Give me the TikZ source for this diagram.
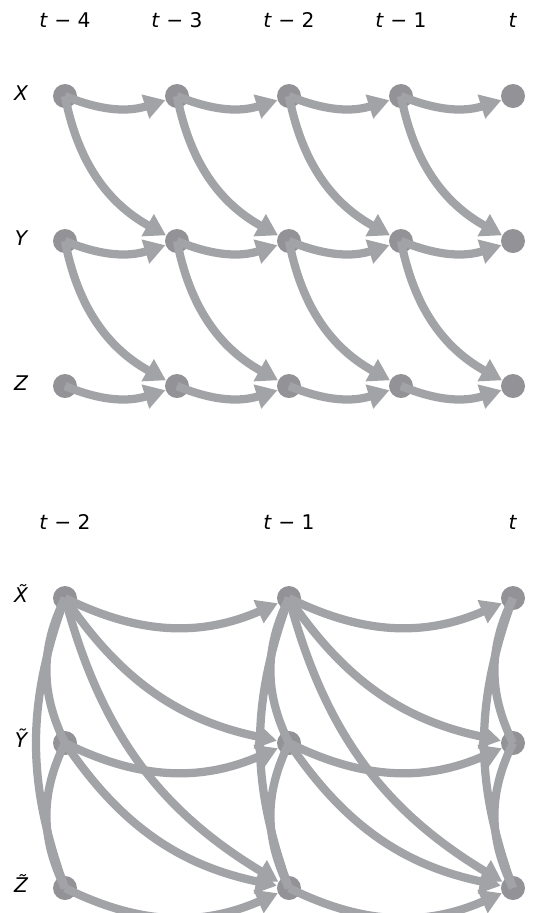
\documentclass[tikz,border=0pt]{standalone}
\usepackage{fontspec}
\setmainfont{DejaVu Sans}
\usetikzlibrary{arrows.meta, positioning}
\definecolor{linkgray}{RGB}{162,163,167}
\definecolor{nodegray}{RGB}{146,146,151}

\begin{document}
\begin{tikzpicture}[
    var/.style={circle, fill=nodegray, inner sep=0pt, minimum size=0.48cm},
    link/.style={-{Triangle[length=0.42cm, width=0.48cm]}, draw=linkgray, line width=0.165cm},
    contemp/.style={draw=linkgray, line width=0.165cm},
    timelabel/.style={font=\fontsize{11.5}{13}\selectfont},
    varlabel/.style={font=\fontsize{11.5}{13}\selectfont\itshape, anchor=mid},
]
\useasboundingbox (0,0) rectangle (10.64,-18.26);

% Time labels (lagged graph)
\node[timelabel] (h4) at (1.3,-0.4) {\textit{t} − 4};
\node[timelabel] (h3) at (3.54,-0.4) {\textit{t} − 3};
\node[timelabel] (h2) at (5.78,-0.4) {\textit{t} − 2};
\node[timelabel] (h1) at (8.02,-0.4) {\textit{t} − 1};
\node[timelabel] (h0) at (10.26,-0.4) {\textit{t}};

% Variable labels
\node[varlabel] (lX) at (0.42,-1.92) {X};
\node[varlabel] (lY) at (0.42,-4.82) {Y};
\node[varlabel] (lZ) at (0.42,-7.72) {Z};

% Variable nodes
\node[var] (X4) at (1.3,-1.92) {};
\node[var] (X3) at (3.54,-1.92) {};
\node[var] (X2) at (5.78,-1.92) {};
\node[var] (X1) at (8.02,-1.92) {};
\node[var] (X0) at (10.26,-1.92) {};
\node[var] (Y4) at (1.3,-4.82) {};
\node[var] (Y3) at (3.54,-4.82) {};
\node[var] (Y2) at (5.78,-4.82) {};
\node[var] (Y1) at (8.02,-4.82) {};
\node[var] (Y0) at (10.26,-4.82) {};
\node[var] (Z4) at (1.3,-7.72) {};
\node[var] (Z3) at (3.54,-7.72) {};
\node[var] (Z2) at (5.78,-7.72) {};
\node[var] (Z1) at (8.02,-7.72) {};
\node[var] (Z0) at (10.26,-7.72) {};

% Lagged links
\draw[link] (X4.center) to[bend right=20] (X3);
\draw[link] (X3.center) to[bend right=20] (X2);
\draw[link] (X2.center) to[bend right=20] (X1);
\draw[link] (X1.center) to[bend right=20] (X0);
\draw[link] (X4.center) to[bend right=25] (Y3);
\draw[link] (X3.center) to[bend right=25] (Y2);
\draw[link] (X2.center) to[bend right=25] (Y1);
\draw[link] (X1.center) to[bend right=25] (Y0);
\draw[link] (Y4.center) to[bend right=20] (Y3);
\draw[link] (Y3.center) to[bend right=20] (Y2);
\draw[link] (Y2.center) to[bend right=20] (Y1);
\draw[link] (Y1.center) to[bend right=20] (Y0);
\draw[link] (Y4.center) to[bend right=25] (Z3);
\draw[link] (Y3.center) to[bend right=25] (Z2);
\draw[link] (Y2.center) to[bend right=25] (Z1);
\draw[link] (Y1.center) to[bend right=25] (Z0);
\draw[link] (Z4.center) to[bend right=20] (Z3);
\draw[link] (Z3.center) to[bend right=20] (Z2);
\draw[link] (Z2.center) to[bend right=20] (Z1);
\draw[link] (Z1.center) to[bend right=20] (Z0);

% Time labels (aggregated graph)
\node[timelabel] (g2) at (1.3,-10.44) {\textit{t} − 2};
\node[timelabel] (g1) at (5.78,-10.44) {\textit{t} − 1};
\node[timelabel] (g0) at (10.26,-10.44) {\textit{t}};

\node[varlabel] (ltX) at (0.42,-11.96) {X̃};
\node[varlabel] (ltY) at (0.42,-14.86) {Ỹ};
\node[varlabel] (ltZ) at (0.42,-17.76) {Z̃};

\node[var] (tX2) at (1.3,-11.96) {};
\node[var] (tX1) at (5.78,-11.96) {};
\node[var] (tX0) at (10.26,-11.96) {};
\node[var] (tY2) at (1.3,-14.86) {};
\node[var] (tY1) at (5.78,-14.86) {};
\node[var] (tY0) at (10.26,-14.86) {};
\node[var] (tZ2) at (1.3,-17.76) {};
\node[var] (tZ1) at (5.78,-17.76) {};
\node[var] (tZ0) at (10.26,-17.76) {};

% Contemporaneous links
\draw[contemp] (tX2.center) to[bend right=26] (tY2.center);
\draw[contemp] (tY2.center) to[bend right=26] (tZ2.center);
\draw[contemp] (tX2.center) to[bend right=20] (tZ2.center);
\draw[contemp] (tX1.center) to[bend right=26] (tY1.center);
\draw[contemp] (tY1.center) to[bend right=26] (tZ1.center);
\draw[contemp] (tX1.center) to[bend right=20] (tZ1.center);
\draw[contemp] (tX0.center) to[bend right=26] (tY0.center);
\draw[contemp] (tY0.center) to[bend right=26] (tZ0.center);
\draw[contemp] (tX0.center) to[bend right=20] (tZ0.center);

% Lagged links
\draw[link] (tX2.center) to[bend right=25] (tX1);
\draw[link] (tX2.center) to[bend right=22] (tY1);
\draw[link] (tX2.center) to[bend right=22] (tZ1);
\draw[link] (tY2.center) to[bend right=25] (tY1);
\draw[link] (tY2.center) to[bend right=22] (tZ1);
\draw[link] (tZ2.center) to[bend right=25] (tZ1);
\draw[link] (tX1.center) to[bend right=25] (tX0);
\draw[link] (tX1.center) to[bend right=22] (tY0);
\draw[link] (tX1.center) to[bend right=22] (tZ0);
\draw[link] (tY1.center) to[bend right=25] (tY0);
\draw[link] (tY1.center) to[bend right=22] (tZ0);
\draw[link] (tZ1.center) to[bend right=25] (tZ0);

\end{tikzpicture}
\end{document}
